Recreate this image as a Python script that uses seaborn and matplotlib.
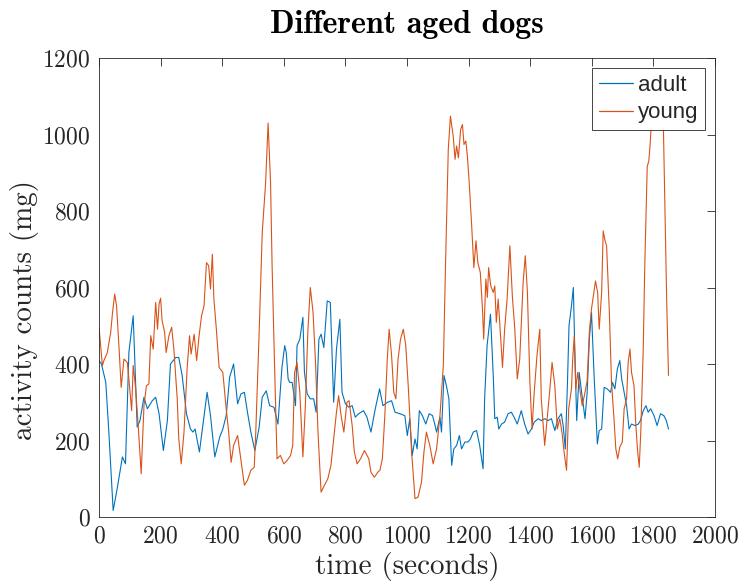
import pandas as pd
import matplotlib
matplotlib.use("Agg")
import matplotlib.pyplot as plt
import seaborn as sns

# --- Data (seconds, activity counts) ---
adult_t = [0, 8, 22, 32, 46, 59, 76, 86, 97, 111, 124, 133, 146, 157, 173, 184, 195, 209, 222, 232,
           249, 259, 270, 284, 297, 305, 312, 326, 339, 351, 362, 376, 392, 402, 413, 424, 437, 444, 450, 461,
           472, 482, 493, 506, 520, 530, 543, 554, 568, 581, 594, 603, 608, 614, 619, 627, 638, 643, 652, 662,
           667, 676, 686, 697, 705, 714, 721, 730, 741, 751, 762, 771, 782, 789, 800, 811, 822, 832, 843, 859,
           870, 883, 897, 911, 922, 937, 950, 961, 977, 993, 1001, 1009, 1017, 1026, 1033, 1040, 1050, 1061, 1072, 1083,
           1090, 1096, 1107, 1112, 1120, 1128, 1136, 1145, 1152, 1161, 1170, 1177, 1188, 1198, 1206, 1215, 1226, 1236, 1247, 1252,
           1260, 1271, 1280, 1285, 1293, 1298, 1307, 1317, 1328, 1339, 1350, 1358, 1371, 1382, 1393, 1404, 1413, 1426, 1436, 1447,
           1458, 1469, 1480, 1490, 1501, 1507, 1514, 1521, 1526, 1534, 1540, 1545, 1551, 1559, 1567, 1578, 1585, 1592, 1599, 1607,
           1618, 1624, 1632, 1640, 1650, 1661, 1667, 1675, 1683, 1691, 1697, 1705, 1713, 1721, 1729, 1740, 1751, 1758, 1767, 1776,
           1783, 1791, 1802, 1812, 1823, 1834, 1842, 1849]
adult_v = [409, 400, 352, 222, 17, 74, 157, 139, 430, 526, 235, 252, 313, 283, 304, 313, 270, 174, 252, 400,
           417, 417, 370, 270, 230, 222, 230, 170, 252, 326, 265, 157, 209, 230, 265, 365, 400, 343, 296, 322,
           326, 274, 222, 174, 235, 313, 330, 291, 287, 243, 391, 448, 430, 361, 352, 352, 291, 448, 465, 522,
           378, 322, 309, 309, 274, 465, 478, 443, 565, 561, 300, 439, 517, 326, 296, 287, 291, 261, 270, 278,
           261, 222, 283, 335, 291, 300, 304, 274, 270, 265, 213, 257, 161, 204, 178, 278, 265, 243, 270, 265,
           243, 222, 261, 222, 370, 343, 309, 135, 178, 187, 213, 178, 196, 196, 204, 222, 226, 187, 126, 309,
           448, 530, 370, 257, 261, 230, 243, 248, 270, 274, 257, 243, 278, 243, 217, 230, 248, 257, 252, 257,
           252, 257, 226, 257, 270, 239, 178, 352, 500, 552, 600, 430, 252, 378, 326, 257, 326, 465, 535, 378,
           191, 226, 230, 339, 335, 326, 352, 335, 387, 409, 361, 326, 291, 230, 243, 239, 243, 252, 278, 291,
           274, 283, 265, 239, 270, 265, 252, 230]

young_t = [0, 11, 16, 27, 38, 44, 51, 57, 65, 72, 81, 92, 99, 106, 111, 119, 128, 137, 146, 154,
           162, 168, 176, 184, 190, 195, 200, 205, 213, 218, 227, 236, 243, 254, 259, 267, 276, 286, 294, 299,
           309, 317, 325, 333, 341, 349, 356, 362, 368, 373, 381, 390, 402, 413, 421, 429, 437, 450, 461, 472,
           482, 493, 504, 509, 520, 530, 541, 549, 557, 562, 570, 578, 589, 600, 611, 622, 629, 635, 643, 652,
           662, 670, 678, 686, 695, 703, 711, 721, 732, 743, 753, 762, 771, 778, 786, 795, 805, 812, 822, 829,
           838, 849, 862, 876, 883, 894, 905, 912, 920, 928, 936, 942, 950, 957, 964, 971, 979, 988, 996, 1004,
           1015, 1026, 1036, 1047, 1055, 1063, 1074, 1085, 1096, 1107, 1118, 1125, 1134, 1141, 1150, 1156, 1161, 1167, 1174, 1180,
           1185, 1191, 1196, 1202, 1210, 1217, 1224, 1230, 1238, 1245, 1249, 1256, 1261, 1265, 1272, 1280, 1285, 1290, 1296, 1303,
           1310, 1317, 1325, 1334, 1342, 1350, 1358, 1366, 1377, 1384, 1391, 1399, 1406, 1413, 1422, 1431, 1436, 1447, 1456, 1463,
           1471, 1480, 1488, 1496, 1503, 1510, 1518, 1525, 1534, 1538, 1543, 1548, 1554, 1561, 1569, 1578, 1585, 1592, 1599, 1605,
           1612, 1619, 1624, 1632, 1637, 1643, 1648, 1657, 1664, 1672, 1678, 1684, 1691, 1699, 1705, 1713, 1718, 1724, 1729, 1737,
           1743, 1749, 1754, 1759, 1767, 1772, 1780, 1785, 1789, 1794, 1812, 1832, 1843, 1849]
young_v = [496, 396, 409, 430, 483, 535, 583, 552, 443, 339, 413, 404, 343, 278, 396, 335, 230, 113, 291, 343,
           348, 474, 439, 561, 491, 557, 572, 513, 483, 430, 474, 496, 439, 309, 204, 139, 222, 387, 474, 426,
           478, 409, 474, 526, 552, 665, 657, 596, 687, 570, 491, 391, 378, 283, 222, 143, 187, 213, 148, 83,
           96, 122, 130, 222, 483, 744, 874, 1030, 874, 657, 396, 152, 161, 139, 148, 161, 187, 378, 404, 326,
           157, 291, 483, 600, 535, 404, 222, 65, 83, 100, 135, 204, 274, 317, 265, 222, 300, 304, 239, 170,
           139, 152, 174, 152, 117, 104, 117, 122, 152, 265, 413, 491, 422, 326, 309, 413, 465, 491, 448, 343,
           170, 48, 52, 91, 170, 222, 187, 139, 178, 265, 396, 657, 961, 1048, 996, 935, 970, 939, 1013, 1026,
           974, 983, 944, 874, 761, 652, 722, 665, 639, 544, 465, 622, 574, 652, 604, 587, 604, 509, 570, 483,
           391, 491, 570, 709, 578, 491, 361, 413, 613, 683, 587, 352, 230, 326, 422, 491, 309, 187, 265, 326,
           404, 343, 230, 257, 222, 170, 122, 283, 335, 413, 474, 335, 378, 335, 291, 326, 357, 483, 544, 578,
           617, 587, 491, 587, 748, 722, 709, 535, 352, 257, 178, 152, 183, 196, 283, 309, 404, 439, 378, 343,
           239, 170, 130, 222, 439, 657, 917, 930, 970, 1039, 1090, 1040, 570, 370]

x_ticks = list(range(0, 2001, 200))
y_ticks = list(range(0, 1201, 200))

# --- Build long table for seaborn ---
df = pd.concat([
    pd.DataFrame({"time": adult_t, "counts": adult_v, "group": "adult"}),
    pd.DataFrame({"time": young_t, "counts": young_v, "group": "young"}),
], ignore_index=True)

sns.set_theme(style="white")
axis_color = "#262626"
plt.rcParams["font.family"] = ["cmr10", "DejaVu Serif"]
plt.rcParams["axes.formatter.use_mathtext"] = True

fig = plt.figure(figsize=(7.43, 5.86), dpi=100)
ax = fig.add_axes([99 / 743, 1 - 517 / 586, (715 - 99) / 743, (517 - 58) / 586])

sns.lineplot(data=df, x="time", y="counts", hue="group", hue_order=["adult", "young"],
             palette={"adult": "#0072BD", "young": "#D95319"}, estimator=None,
             sort=False, linewidth=0.8, ax=ax)

ax.set_xlim(0, 2000)
ax.set_ylim(0, 1200)
ax.set_xticks(x_ticks)
ax.set_yticks(y_ticks)
ax.tick_params(direction="in", length=6, width=0.6, colors=axis_color, labelsize=17,
               top=True, right=True, pad=6)
for label in ax.get_xticklabels() + ax.get_yticklabels():
    label.set_color(axis_color)
for spine in ax.spines.values():
    spine.set_color(axis_color)
    spine.set_linewidth(0.6)

ax.set_xlabel("time (seconds)", fontsize=21, color=axis_color, labelpad=3)
ax.set_ylabel("activity counts (mg)", fontsize=21, color=axis_color)
ax.yaxis.set_label_coords(-0.097, 0.45)
ax.set_title("Different aged dogs", fontsize=23, family=["cmb10", "DejaVu Serif"],
             color="black", pad=18)

leg = ax.legend(loc="upper right", frameon=True, fancybox=False,
                borderaxespad=0.45, handlelength=1.55, handletextpad=0.2,
                borderpad=0.3, labelspacing=0.3, prop={"family": "Liberation Sans", "size": 16})
leg.get_frame().set_edgecolor(axis_color)
leg.get_frame().set_linewidth(0.6)
leg.get_frame().set_alpha(1)
for line in leg.get_lines():
    line.set_linewidth(0.9)

fig.savefig("out.png", dpi=100)
